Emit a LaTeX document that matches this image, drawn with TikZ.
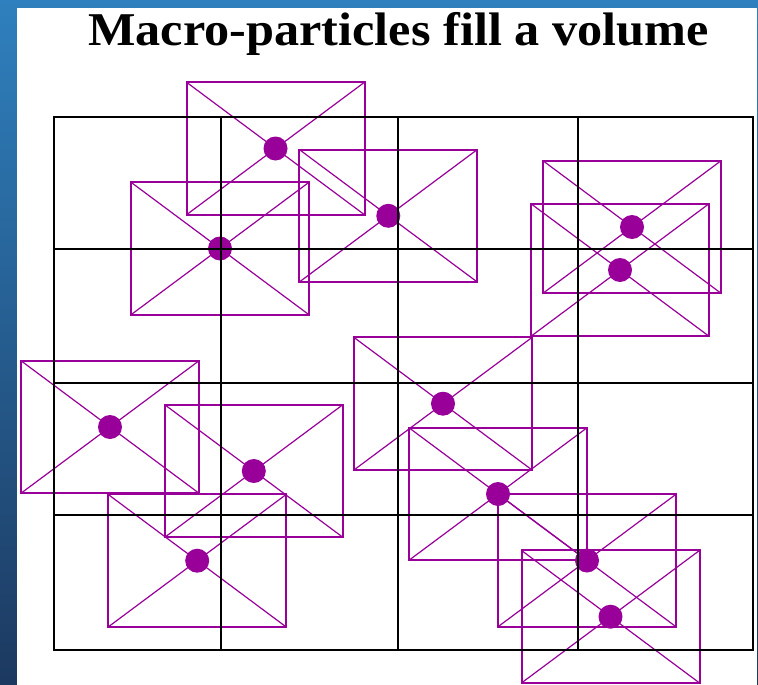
\documentclass[tikz,border=0pt]{standalone}
\usepackage{fontspec}
\setmainfont{Liberation Serif}
\usepackage{graphicx}
\definecolor{pmag}{RGB}{153,0,153}
\definecolor{topblue}{RGB}{47,128,190}
\definecolor{botblue}{RGB}{28,57,96}
\begin{document}
\begin{tikzpicture}[x=1pt,y=-1pt,
  pbox/.style={draw=pmag, line width=2pt, minimum width=178pt, minimum height=132.5pt, inner sep=0pt, outer sep=0pt},
  diag/.style={draw=pmag, line width=1.2pt},
  pdot/.style={circle, fill=pmag, minimum size=24pt, inner sep=0pt},
  gridline/.style={draw=black, line width=1.8pt}]
\useasboundingbox (0,0) rectangle (758,685);
\shade[top color=topblue, bottom color=botblue] (0,0) rectangle (758,685);
\fill[white] (17,8) rectangle (757,685);
\node[anchor=base, inner sep=0pt, font=\fontsize{47}{50}\selectfont\bfseries] (title) at (398.5,46) {\scalebox{1.07}[1]{Macro-particles fill a volume}};
\foreach \n/\cx/\cy in {p1/275.5/148.5, p2/220/248.5, p3/388.3/215.8, p4/632/227, p5/620/270, p6/110/427, p7/253.8/471, p8/197.2/560.7, p9/443/403.7, p10/498/494, p11/587/560.5, p12/610.5/616.7}{
  \node[pbox] (\n) at (\cx,\cy) {};
  \draw[diag] (\n.north west) -- (\n.south east) (\n.north east) -- (\n.south west);
  \node[pdot] (d\n) at (\n.center) {};
}
\draw[gridline] (54,117) rectangle (753,650);
\foreach \gx in {221,398,578}{\draw[gridline] (\gx,117) -- (\gx,650);}
\foreach \gy in {249,383,515}{\draw[gridline] (54,\gy) -- (753,\gy);}
\end{tikzpicture}
\end{document}
